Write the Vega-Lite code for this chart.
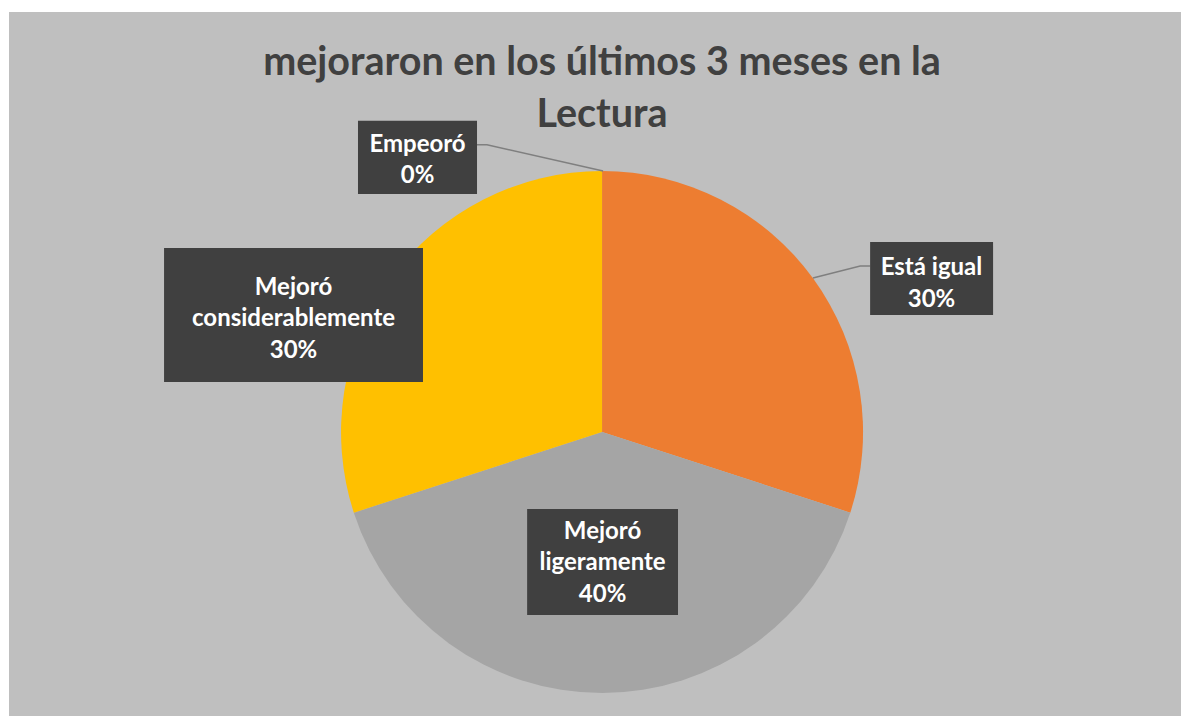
{
  "$schema": "https://vega.github.io/schema/vega-lite/v6.json",
  "width": 1172,
  "height": 704,
  "autosize": "none",
  "padding": {"left": 9, "top": 12, "right": 0, "bottom": 0},
  "background": "#ffffff",
  "config": {"view": {"fill": "#bfbfbf", "stroke": null}},
  "title": {
    "text": ["mejoraron en los últimos 3 meses en la", "Lectura"],
    "orient": "top",
    "anchor": "middle",
    "frame": "group",
    "offset": -154,
    "dx": 7,
    "baseline": "alphabetic",
    "lineHeight": 52,
    "font": "Lato",
    "fontSize": 39.5,
    "fontWeight": "bold",
    "color": "#404040"
  },
  "datasets": {
    "respuestas": [
      {"categoria": "Empeoró", "valor": 0, "orden": 1},
      {"categoria": "Está igual", "valor": 30, "orden": 2},
      {"categoria": "Mejoró ligeramente", "valor": 40, "orden": 3},
      {"categoria": "Mejoró considerablemente", "valor": 30, "orden": 4}
    ],
    "etiquetas": [
      {"categoria": "Empeoró", "texto": "Empeoró\n0%", "x0": -0.935, "x1": -0.479, "y0": 1.192, "y1": 0.912, "tx": -0.707, "ty": 1.1},
      {"categoria": "Está igual", "texto": "Está igual\n30%", "x0": 1.027, "x1": 1.498, "y0": 0.728, "y1": 0.448, "tx": 1.262, "ty": 0.628},
      {"categoria": "Mejoró considerablemente", "texto": "Mejoró\nconsiderablemente\n30%", "x0": -1.678, "x1": -0.686, "y0": 0.705, "y1": 0.192, "tx": -1.182, "ty": 0.552},
      {"categoria": "Mejoró ligeramente", "texto": "Mejoró\nligeramente\n40%", "x0": -0.287, "x1": 0.291, "y0": -0.295, "y1": -0.701, "tx": 0.002, "ty": -0.383}
    ],
    "guias": [
      {"linea": "Empeoró", "p": 1, "gx": -0.479, "gy": 1.1},
      {"linea": "Empeoró", "p": 2, "gx": -0.441, "gy": 1.1},
      {"linea": "Empeoró", "p": 3, "gx": 0.004, "gy": 1.0},
      {"linea": "Está igual", "p": 1, "gx": 1.027, "gy": 0.636},
      {"linea": "Está igual", "p": 2, "gx": 0.989, "gy": 0.636},
      {"linea": "Está igual", "p": 3, "gx": 0.808, "gy": 0.59}
    ]
  },
  "layer": [
    {
      "data": {"name": "respuestas"},
      "mark": {"type": "arc", "outerRadius": 261},
      "encoding": {
        "theta": {"field": "valor", "type": "quantitative", "stack": true},
        "order": {"field": "orden", "type": "quantitative"},
        "color": {
          "field": "categoria",
          "type": "nominal",
          "scale": {
            "domain": ["Empeoró", "Está igual", "Mejoró ligeramente", "Mejoró considerablemente"],
            "range": ["#5b9bd5", "#ed7d31", "#a5a5a5", "#ffc000"]
          },
          "legend": null
        },
        "x": {"datum": 0, "type": "quantitative", "scale": {"domain": [-2.272, 2.218], "nice": false, "zero": false}, "axis": null},
        "y": {"datum": 0, "type": "quantitative", "scale": {"domain": [-1.088, 1.609], "nice": false, "zero": false}, "axis": null}
      }
    },
    {
      "data": {"name": "guias"},
      "mark": {"type": "line", "color": "#7f7f7f", "strokeWidth": 1.5},
      "encoding": {
        "x": {"field": "gx", "type": "quantitative"},
        "y": {"field": "gy", "type": "quantitative"},
        "detail": {"field": "linea"},
        "order": {"field": "p", "type": "quantitative"}
      }
    },
    {
      "data": {"name": "etiquetas"},
      "mark": {"type": "rect", "color": "#000000", "opacity": 0.3, "xOffset": 3, "yOffset": 4},
      "encoding": {
        "x": {"field": "x0", "type": "quantitative"},
        "x2": {"field": "x1"},
        "y": {"field": "y0", "type": "quantitative"},
        "y2": {"field": "y1"}
      }
    },
    {
      "data": {"name": "etiquetas"},
      "mark": {"type": "rect", "color": "#404040"},
      "encoding": {
        "x": {"field": "x0", "type": "quantitative"},
        "x2": {"field": "x1"},
        "y": {"field": "y0", "type": "quantitative"},
        "y2": {"field": "y1"}
      }
    },
    {
      "data": {"name": "etiquetas"},
      "mark": {"type": "text", "color": "#ffffff", "font": "Lato", "fontSize": 24, "fontWeight": "bold", "lineBreak": "\n", "lineHeight": 31.5, "align": "center", "baseline": "middle"},
      "encoding": {
        "x": {"field": "tx", "type": "quantitative"},
        "y": {"field": "ty", "type": "quantitative"},
        "text": {"field": "texto"}
      }
    }
  ]
}
